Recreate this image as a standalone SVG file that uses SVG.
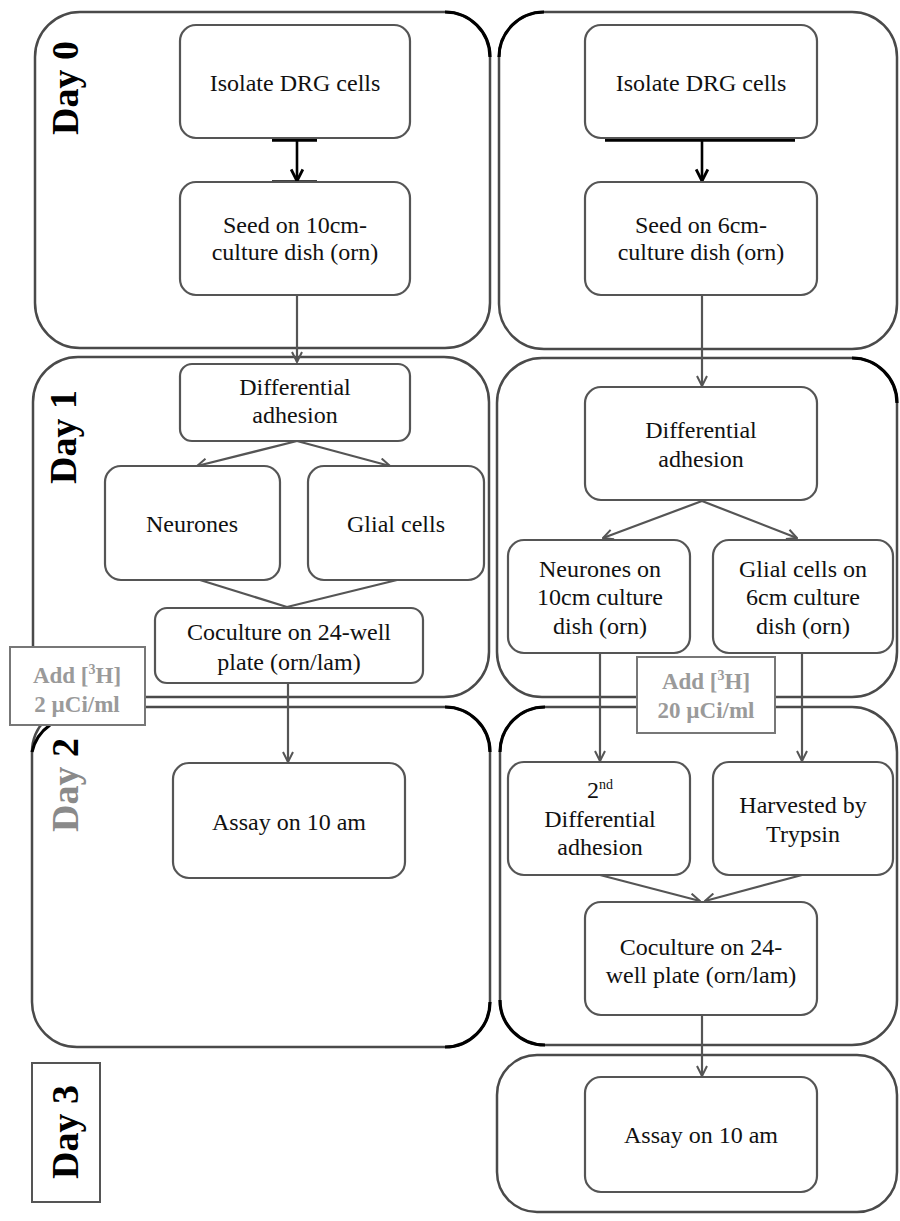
<svg xmlns="http://www.w3.org/2000/svg" width="900" height="1221" viewBox="0 0 900 1221">
<defs>
<style>
text{font-family:"Liberation Serif","Times New Roman",serif}
.cont{fill:none;stroke:#4a4a4a;stroke-width:2.5}
.blk{fill:none;stroke:#000;stroke-width:3.2}
.node{fill:#fff;stroke:#555;stroke-width:2.2}
.t{font-size:24px;fill:#111;text-anchor:middle}
.day{font-size:38px;font-weight:bold;fill:#000;text-anchor:middle}
.add{font-size:23px;font-weight:bold;fill:#9a9a9a;text-anchor:middle}
.addbox{fill:#fff;stroke:#777;stroke-width:2}
.c{fill:none;stroke:#555;stroke-width:2.2}
.cb{fill:none;stroke:#000;stroke-width:2.6}
</style>
<marker id="ah" viewBox="0 0 12 12" refX="11" refY="6" markerWidth="12" markerHeight="12" markerUnits="userSpaceOnUse" orient="auto">
<path d="M1,1 L11,6 L1,11" fill="none" stroke="#555" stroke-width="2"/>
</marker>
<marker id="ahb" viewBox="0 0 12 12" refX="11" refY="6" markerWidth="14" markerHeight="14" markerUnits="userSpaceOnUse" orient="auto">
<path d="M1,1 L11,6 L1,11" fill="none" stroke="#000" stroke-width="2.4"/>
</marker>
</defs>
<rect width="900" height="1221" fill="#fff"/>

<g id="containers">
<rect id="day0-left" class="cont" x="35" y="12" width="455" height="336" rx="45"/>
<rect id="day0-right" class="cont" x="499" y="12" width="398" height="337" rx="45"/>
<rect id="day1-left" class="cont" x="33" y="357" width="456" height="340" rx="45"/>
<rect id="day1-right" class="cont" x="497" y="358" width="400" height="339" rx="45"/>
<rect id="day2-left" class="cont" x="32" y="707" width="458" height="340" rx="45"/>
<rect id="day2-right" class="cont" x="500" y="707" width="397" height="338" rx="45"/>
<rect id="day3-right" class="cont" x="497" y="1055" width="400" height="157" rx="40"/>
<path class="blk" d="M445,12 A45,45 0 0 1 490,57"/>
<path class="blk" d="M499,57 A45,45 0 0 1 544,12"/>
<path class="blk" d="M852,358 A45,45 0 0 1 897,403"/>
<path class="blk" d="M445,707 A45,45 0 0 1 490,752"/>
<path class="blk" d="M490,1002 A45,45 0 0 1 445,1047"/>
<path class="blk" d="M545,707 A45,45 0 0 0 500,752"/>
<path class="blk" d="M500,1000 A45,45 0 0 0 545,1045"/>
<path class="blk" d="M50,725 A45,45 0 0 0 32,752"/>
</g>

<g id="day-labels">
<text class="day" transform="translate(78,88) rotate(-90)">Day 0</text>
<text class="day" transform="translate(76,437) rotate(-90)">Day 1</text>
<text class="day" transform="translate(78,785) rotate(-90)"><tspan fill="#8a8a8a">Day</tspan> 2</text>
<g id="day3-label">
<rect x="32" y="1063" width="68" height="139" fill="#fff" stroke="#555" stroke-width="2"/>
<text class="day" transform="translate(78,1132) rotate(-90)">Day 3</text>
</g>
</g>

<g id="connectors">
<line class="cb" x1="297" y1="139" x2="297" y2="181" marker-end="url(#ahb)"/>
<line x1="272" y1="140" x2="317" y2="140" stroke="#000" stroke-width="3.5"/>
<line x1="272" y1="182" x2="317" y2="182" stroke="#000" stroke-width="3.5"/>
<line class="c" x1="297" y1="295" x2="297" y2="362" marker-end="url(#ah)"/>
<line class="c" x1="297" y1="441" x2="197" y2="466" marker-end="url(#ah)"/>
<line class="c" x1="297" y1="441" x2="390" y2="466" marker-end="url(#ah)"/>
<line class="c" x1="200" y1="580" x2="287" y2="607"/>
<line class="c" x1="397" y1="580" x2="287" y2="607"/>
<line class="c" x1="288" y1="683" x2="288" y2="762" marker-end="url(#ah)"/>

<line class="cb" x1="702" y1="139" x2="702" y2="181" marker-end="url(#ahb)"/>
<line x1="605" y1="140" x2="795" y2="140" stroke="#000" stroke-width="3.5"/>
<line class="c" x1="702" y1="295" x2="702" y2="386" marker-end="url(#ah)"/>
<line class="c" x1="702" y1="501" x2="603" y2="538" marker-end="url(#ah)"/>
<line class="c" x1="702" y1="501" x2="797" y2="538" marker-end="url(#ah)"/>
<line class="c" x1="600" y1="653" x2="600" y2="761" marker-end="url(#ah)"/>
<line class="c" x1="802" y1="653" x2="802" y2="761" marker-end="url(#ah)"/>
<line class="c" x1="600" y1="875" x2="700" y2="901" marker-end="url(#ah)"/>
<line class="c" x1="802" y1="875" x2="705" y2="901" marker-end="url(#ah)"/>
<line class="c" x1="702" y1="1015" x2="702" y2="1076" marker-end="url(#ah)"/>
</g>

<g id="L-isolate"><rect class="node" x="180" y="25" width="230" height="113" rx="16"/><text class="t" x="295" y="91">Isolate DRG cells</text></g>
<g id="L-seed"><rect class="node" x="180" y="182" width="230" height="113" rx="16"/><text class="t" x="295" y="233">Seed on 10cm-</text><text class="t" x="295" y="260">culture dish (orn)</text></g>
<g id="L-diff"><rect class="node" x="180" y="364" width="230" height="77" rx="12"/><text class="t" x="295" y="395">Differential</text><text class="t" x="295" y="423">adhesion</text></g>
<g id="L-neurones"><rect class="node" x="105" y="466" width="175" height="114" rx="16"/><text class="t" x="192" y="532">Neurones</text></g>
<g id="L-glial"><rect class="node" x="308" y="466" width="176" height="114" rx="16"/><text class="t" x="396" y="532">Glial cells</text></g>
<g id="L-coculture"><rect class="node" x="155" y="608" width="268" height="75" rx="12"/><text class="t" x="289" y="640">Coculture on 24-well</text><text class="t" x="289" y="670">plate (orn/lam)</text></g>
<g id="L-add"><rect class="addbox" x="10" y="647" width="135" height="78"/><text class="add" x="77" y="683">Add [<tspan font-size="14" dy="-9">3</tspan><tspan dy="9">H]</tspan></text><text class="add" x="77" y="712">2 µCi/ml</text></g>
<g id="L-assay"><rect class="node" x="173" y="763" width="232" height="115" rx="16"/><text class="t" x="289" y="830">Assay on 10 am</text></g>

<g id="R-isolate"><rect class="node" x="585" y="25" width="232" height="113" rx="16"/><text class="t" x="701" y="91">Isolate DRG cells</text></g>
<g id="R-seed"><rect class="node" x="585" y="182" width="232" height="113" rx="16"/><text class="t" x="701" y="233">Seed on 6cm-</text><text class="t" x="701" y="260">culture dish (orn)</text></g>
<g id="R-diff"><rect class="node" x="585" y="387" width="232" height="113" rx="16"/><text class="t" x="701" y="438">Differential</text><text class="t" x="701" y="467">adhesion</text></g>
<g id="R-neurones"><rect class="node" x="508" y="540" width="182" height="113" rx="16"/><text class="t" x="600" y="577">Neurones on</text><text class="t" x="600" y="605">10cm culture</text><text class="t" x="600" y="634">dish (orn)</text></g>
<g id="R-glial"><rect class="node" x="713" y="540" width="180" height="113" rx="16"/><text class="t" x="803" y="577">Glial cells on</text><text class="t" x="803" y="605">6cm culture</text><text class="t" x="803" y="634">dish (orn)</text></g>
<g id="R-add"><rect class="addbox" x="637" y="657" width="138" height="76"/><text class="add" x="706" y="689">Add [<tspan font-size="14" dy="-9">3</tspan><tspan dy="9">H]</tspan></text><text class="add" x="706" y="718">20 µCi/ml</text></g>
<g id="R-diff2"><rect class="node" x="508" y="762" width="182" height="113" rx="16"/><text class="t" x="600" y="798">2<tspan font-size="14" dy="-9">nd</tspan></text><text class="t" x="600" y="827">Differential</text><text class="t" x="600" y="855">adhesion</text></g>
<g id="R-harvest"><rect class="node" x="713" y="762" width="180" height="113" rx="16"/><text class="t" x="803" y="813">Harvested by</text><text class="t" x="803" y="842">Trypsin</text></g>
<g id="R-coculture"><rect class="node" x="585" y="902" width="232" height="113" rx="16"/><text class="t" x="701" y="955">Coculture on 24-</text><text class="t" x="701" y="983">well plate (orn/lam)</text></g>
<g id="R-assay"><rect class="node" x="585" y="1077" width="232" height="115" rx="16"/><text class="t" x="701" y="1143">Assay on 10 am</text></g>
</svg>
